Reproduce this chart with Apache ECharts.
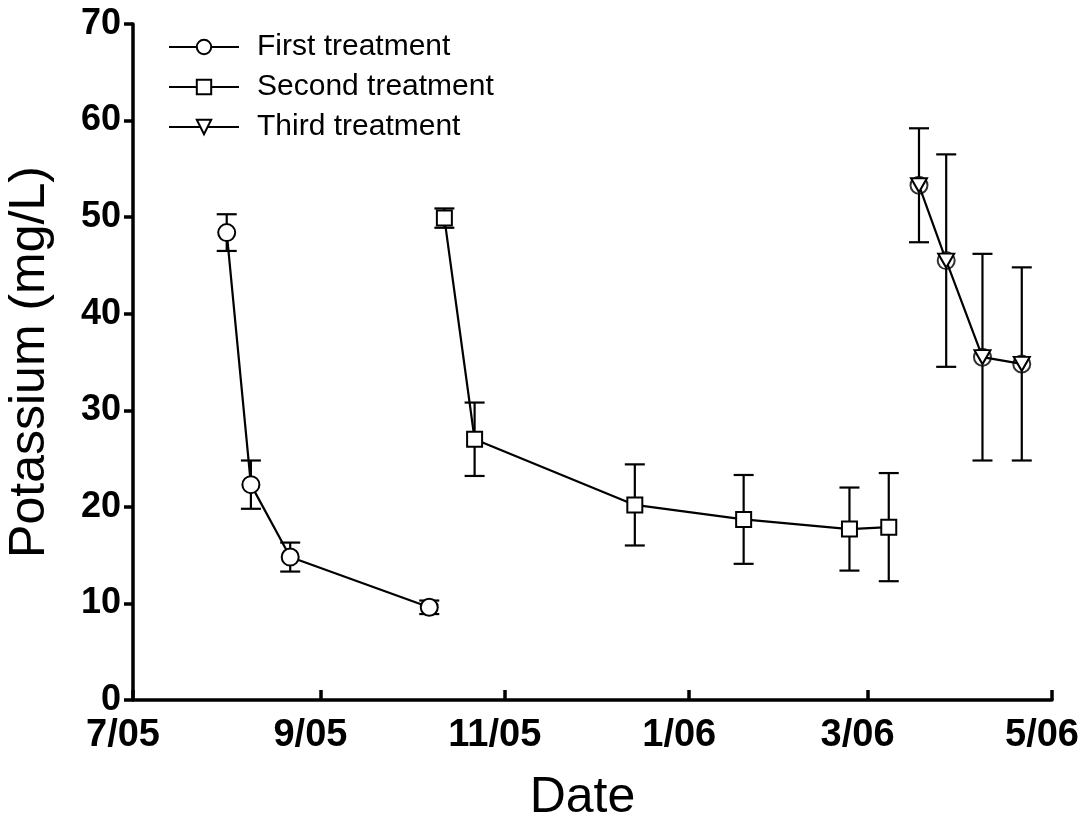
<!DOCTYPE html>
<html>
<head>
<meta charset="utf-8">
<script src="https://cdn.jsdelivr.net/npm/echarts@6/dist/echarts.min.js"></script>
<style>
  html, body { margin: 0; padding: 0; background: #fff; }
  #chart { width: 1091px; height: 830px; }
</style>
</head>
<body>
<div id="chart"></div>
<script>
// Axis reference: days are counted from 1 July 2005
const axisStart = '2005-07-01';
const axisEnd = '2006-05-01';
const tickDates = ['2005-07-01', '2005-09-01', '2005-11-01', '2006-01-01', '2006-03-01', '2006-05-01'];
const tickLabels = ['7/05', '9/05', '11/05', '1/06', '3/06', '5/06'];

// First treatment: sampling dates, mean potassium (mg/L), error
const firstDates = ['2005-08-01', '2005-08-09', '2005-08-22', '2005-10-07'];
const firstMean = [48.4, 22.3, 14.8, 9.6];
const firstErr = [1.9, 2.5, 1.5, 0.7];

// Second treatment
const secondDates = ['2005-10-12', '2005-10-22', '2005-12-14', '2006-01-19', '2006-02-23', '2006-03-08'];
const secondMean = [49.9, 27.0, 20.2, 18.7, 17.7, 17.9];
const secondErr = [1.0, 3.8, 4.2, 4.6, 4.3, 5.6];

// Third treatment
const thirdDates = ['2006-03-18', '2006-03-27', '2006-04-08', '2006-04-21'];
const thirdMean = [53.3, 45.5, 35.5, 34.8];
const thirdErr = [5.9, 11.0, 10.7, 10.0];

const seriesNames = ['First treatment', 'Second treatment', 'Third treatment'];

function dayOf(s) {
  const p = s.split('-').map(Number);
  const a = axisStart.split('-').map(Number);
  return Math.round((Date.UTC(p[0], p[1] - 1, p[2]) - Date.UTC(a[0], a[1] - 1, a[2])) / 86400000);
}

const tickDays = tickDates.map(dayOf);
const labelFont = 'Liberation Sans, Arial, sans-serif';

function points(dates, mean) {
  return dates.map((d, i) => [dayOf(d), mean[i]]);
}

// Vertical error bars with caps
function errorBars(dates, mean, err) {
  return {
    type: 'custom',
    silent: true,
    z: 1,
    data: dates.map((d, i) => [dayOf(d), mean[i] - err[i], mean[i] + err[i]]),
    encode: { x: 0, y: [1, 2] },
    renderItem(params, api) {
      const x = api.value(0);
      const lo = api.coord([x, api.value(1)]);
      const hi = api.coord([x, api.value(2)]);
      const hw = 10;
      const style = { stroke: '#000', lineWidth: 2.2, fill: null };
      return {
        type: 'group',
        children: [
          { type: 'line', shape: { x1: lo[0], y1: lo[1], x2: hi[0], y2: hi[1] }, style },
          { type: 'line', shape: { x1: lo[0] - hw, y1: lo[1], x2: lo[0] + hw, y2: lo[1] }, style },
          { type: 'line', shape: { x1: hi[0] - hw, y1: hi[1], x2: hi[0] + hw, y2: hi[1] }, style }
        ]
      };
    }
  };
}

function lineSeries(name, data, symbol, size) {
  return {
    name,
    type: 'line',
    data,
    symbol,
    symbolSize: size,
    showAllSymbol: true,
    z: 3,
    lineStyle: { color: '#000', width: 2.2 },
    itemStyle: { color: '#fff', borderColor: '#000', borderWidth: 2 },
    emphasis: { disabled: true }
  };
}

const downTriangle = 'path://M0,0L20,0L10,17Z';

const chart = echarts.init(document.getElementById('chart'), null, { renderer: 'canvas' });
chart.setOption({
  animation: false,
  backgroundColor: '#fff',
  grid: { left: 133, right: 39, top: 24, bottom: 130, containLabel: false, outerBoundsMode: 'none' },
  legend: {
    data: seriesNames,
    orient: 'vertical',
    left: 163,
    top: 27,
    itemWidth: 70,
    itemHeight: 18,
    itemGap: 10,
    textStyle: { fontFamily: labelFont, fontSize: 30, color: '#000', padding: [0, 0, 0, 13] },
    selectedMode: false
  },
  xAxis: {
    type: 'value',
    min: dayOf(axisStart),
    max: dayOf(axisEnd),
    name: 'Date',
    nameLocation: 'middle',
    nameGap: 73,
    nameTextStyle: { fontFamily: labelFont, fontSize: 50, color: '#000', padding: [0, 20, 0, 0] },
    splitLine: { show: false },
    axisLine: { lineStyle: { color: '#000', width: 3.5 } },
    axisTick: {
      inside: true, length: 10,
      lineStyle: { color: '#000', width: 3.5 },
      customValues: tickDays
    },
    axisLabel: {
      customValues: tickDays,
      formatter: v => tickLabels[tickDays.indexOf(v)],
      fontFamily: labelFont, fontSize: 38, fontWeight: 'bold', color: '#000',
      margin: 17,
      padding: [0, 20, 0, 0]
    }
  },
  yAxis: {
    type: 'value',
    min: 0,
    max: 70,
    interval: 10,
    name: 'Potassium (mg/L)',
    nameLocation: 'middle',
    nameGap: 78,
    nameTextStyle: { fontFamily: labelFont, fontSize: 50, color: '#000' },
    splitLine: { show: false },
    axisLine: { lineStyle: { color: '#000', width: 3.5 } },
    axisTick: { inside: false, length: 9, lineStyle: { color: '#000', width: 3.5 } },
    axisLabel: {
      fontFamily: labelFont, fontSize: 36, fontWeight: 'bold', color: '#000', margin: 12
    }
  },
  series: [
    errorBars(firstDates, firstMean, firstErr),
    errorBars(secondDates, secondMean, secondErr),
    errorBars(thirdDates, thirdMean, thirdErr),
    lineSeries(seriesNames[0], points(firstDates, firstMean), 'circle', 17),
    lineSeries(seriesNames[1], points(secondDates, secondMean), 'rect', 15),
    // ring drawn under each third-treatment triangle
    {
      type: 'scatter',
      data: points(thirdDates, thirdMean),
      symbol: 'circle',
      symbolSize: 17,
      z: 2,
      silent: true,
      itemStyle: { color: '#fff', borderColor: '#000', borderWidth: 2 }
    },
    lineSeries(seriesNames[2], points(thirdDates, thirdMean), downTriangle, [16, 14])
  ]
});
</script>
</body>
</html>
